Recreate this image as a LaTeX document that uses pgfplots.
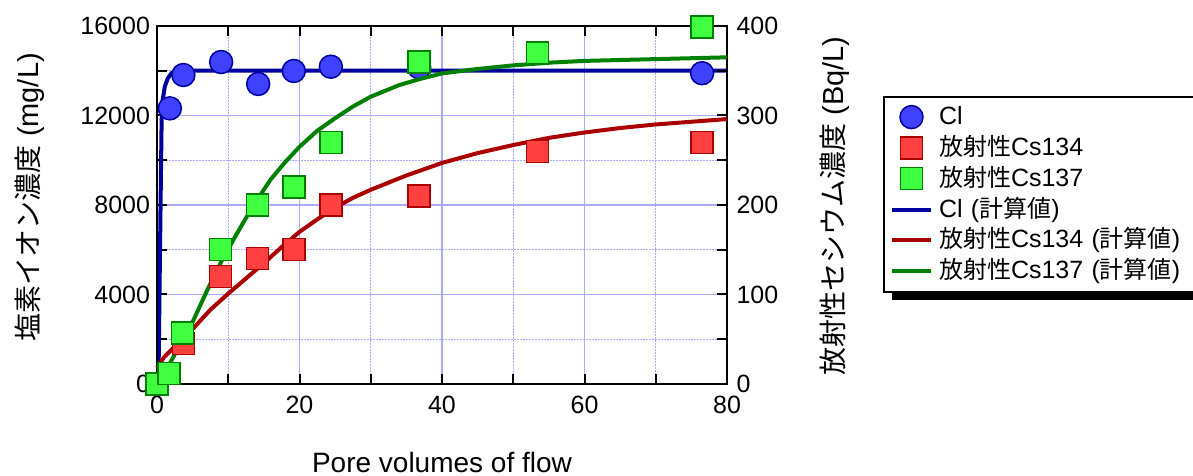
\documentclass[border=0pt]{standalone}
\usepackage{fontspec}
\setmainfont{Liberation Sans}
\newfontfamily\cjk{Noto Sans CJK JP}
\usepackage{pgfplots}
\usepackage{pgfplotstable}
\pgfplotsset{compat=1.18}
\definecolor{gridc}{RGB}{170,170,255}
\definecolor{clline}{RGB}{0,0,160}
\definecolor{clfill}{RGB}{64,64,255}
\definecolor{rline}{RGB}{170,0,0}
\definecolor{rfill}{RGB}{255,64,64}
\definecolor{gline}{RGB}{0,128,0}
\definecolor{gfill}{RGB}{64,255,64}

\pgfplotstableread{
x y
0 0
0.2 0
0.35 4000
0.5 8000
0.65 11800
0.8 12700
1.1 13300
1.5 13650
2.06 13900
2.6 13970
3.2 14000
80 14000
}\clcalc
\pgfplotstableread{
x y
1.8 12320
3.7 13810
9.0 14390
14.2 13410
19.2 13990
24.4 14180
36.8 14150
76.5 13890
}\cldata
\pgfplotstableread{
x y
0 18
1 30
2 38
3.8 52
5.3 64
7.5 83
10 101
12.5 118
15 135
17.5 153
20 170
22.5 184
25 197
27.5 208
30 217
35 233
40 247
45 258
50 267
55 275
60 281
65 286
70 290
75 293
80 296
}\rcalc
\pgfplotstableread{
x y
0 0
0.4 8
1.8 23
3.6 49
5.1 71
7 104
9.1 138
11 165
12.6 187
14 205
15.9 228
18 248
20 265
22.5 283
25 297
27.5 310
30 321
34 334
37 341
40 347
45 352
50 356
55 359
60 361
70 363
80 365
}\gcalc
\pgfplotstableread{
x y
0 0
1.7 12
3.7 45
8.9 120
14.1 140
19.2 150
24.4 200
36.8 210
53.4 260
76.5 270
}\rdata
\pgfplotstableread{
x y
0 0
1.7 12
3.6 57
8.9 150
14.1 200
19.2 220
24.4 270
36.8 360
53.4 370
76.5 399
}\gdata

\begin{document}
\begin{tikzpicture}
\path[use as bounding box] (0,0) rectangle (1193pt,476pt);
\clip (0,0) rectangle (1193pt,476pt);
\pgfplotsset{
  common/.style={
    scale only axis, width=570pt, height=358pt,
    at={(157pt,92pt)}, anchor=south west,
    xmin=0, xmax=80,
    axis line style={line width=2pt},
    tick style={black, line width=2pt},
    major tick length=10pt, minor tick length=10pt,
    tick label style={font=\fontsize{25}{29}\selectfont},
    label style={font=\fontsize{29}{34}\selectfont},
    /pgf/number format/assume math mode=true,
    /pgf/number format/1000 sep={},
    scaled ticks=false,
    clip=false,
  }
}
\begin{axis}[common,
  ymin=0, ymax=16000,
  xtick={0,20,...,80}, minor x tick num=1,
  ytick={0,4000,...,16000}, minor y tick num=1,
  ytick pos=left,
  grid=both,
  major grid style={gridc, line width=1.2pt},
  minor grid style={gridc, line width=1.2pt, dash pattern=on 1.5pt off 1.5pt},
  xticklabel style={yshift=-9pt},
  yticklabel style={xshift=-3.5pt},
  xlabel={Pore volumes of flow},
  xlabel style={at={(axis description cs:0.5,-0.218)}, anchor=center, font=\fontsize{28}{32}\selectfont},
  ylabel={{\cjk\fontsize{28}{32}\selectfont 塩素イオン濃度} (mg/L)},
  ylabel style={at={(axis description cs:-0.2228,0.522)}, anchor=center},
]
\addplot[clline, line width=4pt, forget plot] table {\clcalc};
\addplot[only marks, mark=*, mark size=11.5pt, mark options={draw=clline, fill=clfill, line width=1.5pt}, forget plot] table {\cldata};
\end{axis}
\begin{axis}[common,
  ymin=0, ymax=400,
  hide x axis,
  ytick={0,100,...,400}, minor y tick num=1,
  ytick pos=right, yticklabel pos=right,
  yticklabel style={xshift=6pt},
  ylabel={{\cjk\fontsize{28}{32}\selectfont 放射性セシウム濃度} (Bq/L)},
  ylabel style={at={(axis description cs:1.1895,0.497)}, anchor=center},
  legend image code/.code={\draw[mark repeat=2,mark phase=2,#1] plot coordinates {(0pt,0pt) (19.5pt,0pt) (39pt,0pt)};},
  legend style={at={(axis description cs:1.2737,0.8053)}, anchor=north west,
    draw=black, line width=2pt, fill=white,
    inner xsep=6pt, inner ysep=5pt,
    font=\fontsize{25}{29}\selectfont,
    nodes={inner sep=0pt, text height=23pt, text depth=7.8pt},
    cells={anchor=west}, row sep=0pt,
    /tikz/every odd column/.append style={column sep=6pt},
    /tikz/every even column/.append style={text width=265pt}},
]
\fill[black] (axis description cs:1.2895,0.2346) rectangle (axis description cs:1.2895+0.6,0.78);
\addlegendimage{only marks, mark=*, mark size=11.5pt, mark options={draw=clline, fill=clfill, line width=1.5pt}}
\addlegendentry{Cl}
\addlegendimage{only marks, mark=square*, mark size=11pt, mark options={draw=rline, fill=rfill, line width=1.5pt}}
\addlegendentry{{\cjk\fontsize{24}{28}\selectfont 放射性}Cs134}
\addlegendimage{only marks, mark=square*, mark size=11pt, mark options={draw=gline, fill=gfill, line width=1.5pt}}
\addlegendentry{{\cjk\fontsize{24}{28}\selectfont 放射性}Cs137}
\addlegendimage{clline, line width=4pt}
\addlegendentry{Cl ({\cjk\fontsize{24}{28}\selectfont 計算値})}
\addlegendimage{rline, line width=4pt}
\addlegendentry{{\cjk\fontsize{24}{28}\selectfont 放射性}Cs134 ({\cjk\fontsize{24}{28}\selectfont 計算値})}
\addlegendimage{gline, line width=4pt}
\addlegendentry{{\cjk\fontsize{24}{28}\selectfont 放射性}Cs137 ({\cjk\fontsize{24}{28}\selectfont 計算値})}
\addplot[rline, line width=4pt, forget plot] table {\rcalc};
\addplot[gline, line width=4pt, forget plot] table {\gcalc};
\addplot[only marks, mark=square*, mark size=11pt, mark options={draw=rline, fill=rfill, line width=1.5pt}, forget plot] table {\rdata};
\addplot[only marks, mark=square*, mark size=11pt, mark options={draw=gline, fill=gfill, line width=1.5pt}, forget plot] table {\gdata};
\end{axis}
\end{tikzpicture}
\end{document}
